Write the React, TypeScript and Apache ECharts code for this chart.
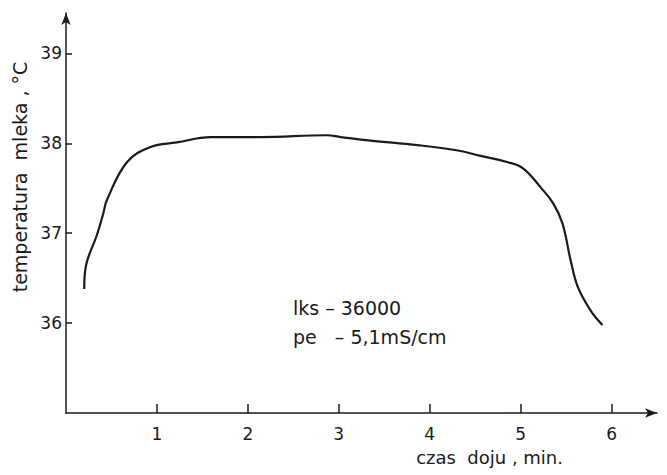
import React, { useEffect, useRef } from "react";
import * as echarts from "echarts";

const timeMin = [0.2, 0.22, 0.34, 0.41, 0.45, 0.67, 0.93, 1.22, 1.59, 2.14, 2.87, 3.02, 3.35, 3.87, 4.31, 4.56, 4.86, 5.03, 5.22, 5.36, 5.46, 5.55, 5.63, 5.77, 5.9];
const tempC = [36.38, 36.64, 36.98, 37.22, 37.37, 37.79, 37.96, 38.01, 38.07, 38.07, 38.09, 38.07, 38.03, 37.98, 37.92, 37.86, 37.79, 37.72, 37.51, 37.33, 37.11, 36.7, 36.4, 36.14, 35.98];
const xTicks = [1, 2, 3, 4, 5, 6];
const yTicks = [36, 37, 38, 39];
const noteLines = ["lks \u2013 36000", "pe   \u2013 5,1mS/cm"];

const FONT = "DejaVu Sans";
const INK = "#1a1a1a";

export default function App() {
  const ref = useRef<HTMLDivElement>(null);
  useEffect(() => {
    if (!ref.current) return;
    const chart = echarts.init(ref.current, undefined, { renderer: "svg" });
    chart.setOption({
      animation: false,
      backgroundColor: "#ffffff",
      grid: { left: 66, right: 10, top: 13, bottom: 62 },
      xAxis: {
        type: "value",
        min: 0,
        max: 6.5,
        interval: 0.5,
        name: "czas  doju , min.",
        nameLocation: "end",
        nameGap: 0,
        nameTextStyle: { fontFamily: FONT, fontSize: 18, color: INK, align: "right", verticalAlign: "top", padding: [35, 94, 0, 0] },
        axisLine: { show: true, lineStyle: { color: INK, width: 1.5 }, symbol: ["none", "arrow"], symbolSize: [7, 12] },
        axisTick: {
          show: true,
          inside: true,
          length: 9,
          lineStyle: { color: INK, width: 1.5 },
          customValues: xTicks,
        },
        axisLabel: {
          fontFamily: FONT,
          fontSize: 17,
          color: INK,
          margin: 12,
          customValues: xTicks,
          formatter: (v: number) => String(v),
        },
        splitLine: { show: false },
      },
      yAxis: {
        type: "value",
        min: 35,
        max: 39.45,
        interval: 1,
        name: "temperatura  mleka , \u00b0C",
        nameLocation: "middle",
        nameGap: 37,
        nameRotate: 90,
        nameTextStyle: { fontFamily: FONT, fontSize: 19, color: INK, padding: [0, 0, 0, 72] },
        axisLine: { show: true, lineStyle: { color: INK, width: 1.5 }, symbol: ["none", "arrow"], symbolSize: [7, 12] },
        axisTick: { show: true, inside: true, length: 6, lineStyle: { color: INK, width: 1.5 }, customValues: yTicks },
        axisLabel: {
          fontFamily: FONT,
          fontSize: 17,
          color: INK,
          margin: 4,
          customValues: yTicks,
          formatter: (v: number) => String(v),
        },
        splitLine: { show: false },
      },
      series: [
        {
          type: "line",
          data: timeMin.map((t, i) => [t, tempC[i]]),
          smooth: 0.4,
          showSymbol: false,
          lineStyle: { color: INK, width: 2.2 },
        },
      ],
      graphic: [
        {
          type: "text",
          left: 293,
          top: 298,
          style: { text: noteLines[0], fontFamily: FONT, fontSize: 19, fill: INK },
        },
        {
          type: "text",
          left: 293,
          top: 327,
          style: { text: noteLines[1], fontFamily: FONT, fontSize: 19, fill: INK },
        },
      ],
    });
    return () => chart.dispose();
  }, []);
  return <div ref={ref} style={{ width: 667, height: 475, position: "absolute", left: 0, top: 0 }} />;
}
